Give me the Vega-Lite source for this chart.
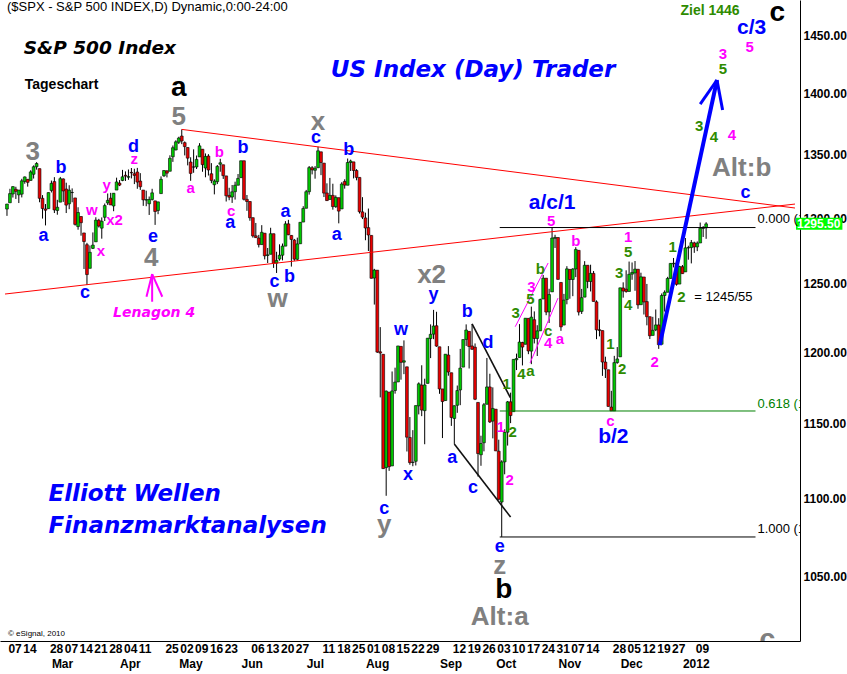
{
"$schema":"https://vega.github.io/schema/vega-lite/v6.json",
"width":800,"height":641,
"autosize":{"type":"none"},
"padding":{"left":0,"top":0,"right":47,"bottom":33},
"background":"white",
"config":{"view":{"stroke":null},
 "axis":{"labelFont":"Liberation Sans","labelFontWeight":"bold","labelFontSize":12,"labelColor":"#000000","domainColor":"#000000","domainWidth":1,"ticks":false,"tickSize":0,"grid":false,"labelOverlap":false,"labelFlush":false,"labelBound":false},
 "axisY":{"labelPadding":3}},
"datasets":{
"candles":[
{"d":3,"o":1307.0,"h":1311.0,"l":1301.7,"c":1310.9},
{"d":4,"o":1311.9,"h":1322.9,"l":1311.9,"c":1319.1},
{"d":5,"o":1318.8,"h":1324.9,"l":1316.0,"c":1324.6},
{"d":6,"o":1322.5,"h":1324.5,"l":1314.9,"c":1320.9},
{"d":7,"o":1318.1,"h":1322.0,"l":1311.7,"c":1321.9},
{"d":8,"o":1318.7,"h":1330.8,"l":1316.1,"c":1329.2},
{"d":9,"o":1328.7,"h":1332.6,"l":1326.9,"c":1332.3},
{"d":10,"o":1330.4,"h":1330.4,"l":1324.6,"c":1328.0},
{"d":11,"o":1329.5,"h":1337.6,"l":1329.5,"c":1336.3},
{"d":12,"o":1334.4,"h":1341.5,"l":1331.0,"c":1340.4},
{"d":13,"o":1340.4,"h":1344.1,"l":1338.1,"c":1343.0},
{"d":14,"o":1338.9,"h":1338.9,"l":1312.3,"c":1315.4},
{"d":15,"o":1315.4,"h":1317.9,"l":1299.6,"c":1307.4},
{"d":16,"o":1307.1,"h":1310.9,"l":1294.3,"c":1306.1},
{"d":17,"o":1307.3,"h":1320.0,"l":1307.3,"c":1319.9},
{"d":18,"o":1321.6,"h":1329.4,"l":1320.0,"c":1327.2},
{"d":19,"o":1328.6,"h":1332.1,"l":1303.9,"c":1306.3},
{"d":20,"o":1305.9,"h":1314.2,"l":1302.6,"c":1308.4},
{"d":21,"o":1312.4,"h":1332.3,"l":1312.4,"c":1330.9},
{"d":22,"o":1330.7,"h":1331.1,"l":1312.6,"c":1321.2},
{"d":23,"o":1322.7,"h":1327.7,"l":1303.9,"c":1310.1},
{"d":24,"o":1311.1,"h":1325.7,"l":1306.9,"c":1321.8},
{"d":25,"o":1319.9,"h":1323.2,"l":1312.3,"c":1320.0},
{"d":26,"o":1315.7,"h":1315.7,"l":1294.2,"c":1295.1},
{"d":27,"o":1293.4,"h":1308.4,"l":1291.0,"c":1304.3},
{"d":28,"o":1301.2,"h":1301.2,"l":1286.4,"c":1296.4},
{"d":29,"o":1288.5,"h":1288.5,"l":1261.1,"c":1281.9},
{"d":30,"o":1279.5,"h":1280.9,"l":1249.1,"c":1256.9},
{"d":31,"o":1261.6,"h":1278.9,"l":1261.6,"c":1273.7},
{"d":32,"o":1276.7,"h":1288.9,"l":1276.2,"c":1279.2},
{"d":33,"o":1281.7,"h":1300.6,"l":1281.7,"c":1298.4},
{"d":34,"o":1298.3,"h":1299.4,"l":1292.7,"c":1293.8},
{"d":35,"o":1292.2,"h":1300.5,"l":1284.1,"c":1297.5},
{"d":36,"o":1300.6,"h":1311.3,"l":1297.7,"c":1309.7},
{"d":37,"o":1311.8,"h":1319.2,"l":1310.2,"c":1313.8},
{"d":38,"o":1315.5,"h":1319.7,"l":1310.2,"c":1310.2},
{"d":39,"o":1309.4,"h":1319.5,"l":1305.3,"c":1319.4},
{"d":40,"o":1321.9,"h":1331.7,"l":1321.9,"c":1328.3},
{"d":41,"o":1327.4,"h":1329.8,"l":1325.0,"c":1325.8},
{"d":42,"o":1329.5,"h":1337.9,"l":1328.9,"c":1332.4},
{"d":43,"o":1333.6,"h":1336.7,"l":1329.1,"c":1332.9},
{"d":44,"o":1332.0,"h":1338.2,"l":1330.0,"c":1332.6},
{"d":45,"o":1335.9,"h":1339.4,"l":1331.1,"c":1335.5},
{"d":46,"o":1334.8,"h":1338.8,"l":1326.6,"c":1333.5},
{"d":47,"o":1336.2,"h":1339.5,"l":1322.9,"c":1328.2},
{"d":48,"o":1329.0,"h":1335.3,"l":1322.0,"c":1324.5},
{"d":49,"o":1321.9,"h":1321.9,"l":1309.5,"c":1314.2},
{"d":50,"o":1314.0,"h":1321.4,"l":1309.2,"c":1314.4},
{"d":51,"o":1311.1,"h":1316.8,"l":1302.4,"c":1314.5},
{"d":52,"o":1314.5,"h":1322.9,"l":1313.7,"c":1319.7},
{"d":53,"o":1313.4,"h":1313.4,"l":1294.7,"c":1305.1},
{"d":54,"o":1305.9,"h":1312.7,"l":1303.0,"c":1312.6},
{"d":55,"o":1319.1,"h":1332.7,"l":1319.1,"c":1330.4},
{"d":56,"o":1333.2,"h":1337.5,"l":1332.3,"c":1337.4},
{"d":57,"o":1337.1,"h":1337.6,"l":1331.9,"c":1335.3},
{"d":58,"o":1336.8,"h":1349.6,"l":1336.8,"c":1347.2},
{"d":59,"o":1348.4,"h":1357.5,"l":1344.3,"c":1355.7},
{"d":60,"o":1353.9,"h":1361.7,"l":1353.6,"c":1360.5},
{"d":61,"o":1360.1,"h":1364.6,"l":1358.7,"c":1363.6},
{"d":62,"o":1365.2,"h":1370.6,"l":1358.6,"c":1361.2},
{"d":63,"o":1359.8,"h":1360.8,"l":1349.5,"c":1356.6},
{"d":64,"o":1355.9,"h":1355.9,"l":1341.5,"c":1347.3},
{"d":65,"o":1344.2,"h":1348.0,"l":1329.2,"c":1335.1},
{"d":66,"o":1340.2,"h":1354.4,"l":1335.6,"c":1340.2},
{"d":67,"o":1340.2,"h":1349.4,"l":1338.6,"c":1346.3},
{"d":68,"o":1348.3,"h":1359.4,"l":1348.3,"c":1357.2},
{"d":69,"o":1354.5,"h":1354.5,"l":1336.4,"c":1342.1},
{"d":70,"o":1339.4,"h":1351.1,"l":1332.0,"c":1348.7},
{"d":71,"o":1349.0,"h":1350.5,"l":1333.4,"c":1337.8},
{"d":72,"o":1334.8,"h":1343.3,"l":1327.3,"c":1329.5},
{"d":73,"o":1326.1,"h":1330.4,"l":1318.5,"c":1329.0},
{"d":74,"o":1328.5,"h":1341.8,"l":1326.6,"c":1340.7},
{"d":75,"o":1342.4,"h":1346.8,"l":1336.4,"c":1343.6},
{"d":76,"o":1342.0,"h":1342.0,"l":1330.7,"c":1333.3},
{"d":77,"o":1333.1,"h":1333.1,"l":1312.9,"c":1317.4},
{"d":78,"o":1317.7,"h":1323.7,"l":1313.9,"c":1316.3},
{"d":79,"o":1316.4,"h":1325.9,"l":1311.8,"c":1320.5},
{"d":80,"o":1320.6,"h":1328.5,"l":1314.4,"c":1325.7},
{"d":81,"o":1325.7,"h":1334.6,"l":1325.7,"c":1331.1},
{"d":82,"o":1331.7,"h":1345.2,"l":1331.7,"c":1345.2},
{"d":83,"o":1345.2,"h":1345.2,"l":1313.7,"c":1314.6},
{"d":84,"o":1314.6,"h":1318.0,"l":1305.6,"c":1312.9},
{"d":85,"o":1312.9,"h":1312.9,"l":1297.9,"c":1300.2},
{"d":86,"o":1300.3,"h":1300.3,"l":1284.9,"c":1286.2},
{"d":87,"o":1286.3,"h":1296.2,"l":1284.7,"c":1284.9},
{"d":88,"o":1284.6,"h":1287.0,"l":1277.4,"c":1279.6},
{"d":89,"o":1279.6,"h":1294.5,"l":1279.6,"c":1289.0},
{"d":90,"o":1288.3,"h":1288.3,"l":1268.3,"c":1271.0},
{"d":91,"o":1271.3,"h":1277.0,"l":1265.6,"c":1271.8},
{"d":92,"o":1272.2,"h":1292.5,"l":1272.2,"c":1287.9},
{"d":93,"o":1287.9,"h":1287.9,"l":1261.9,"c":1265.4},
{"d":94,"o":1265.5,"h":1274.1,"l":1258.1,"c":1267.6},
{"d":95,"o":1268.6,"h":1279.8,"l":1267.4,"c":1271.5},
{"d":96,"o":1271.5,"h":1280.4,"l":1267.6,"c":1278.4},
{"d":97,"o":1278.4,"h":1297.6,"l":1278.4,"c":1295.5},
{"d":98,"o":1295.5,"h":1298.6,"l":1286.8,"c":1287.1},
{"d":99,"o":1286.6,"h":1286.8,"l":1262.9,"c":1283.5},
{"d":100,"o":1283.0,"h":1283.9,"l":1267.2,"c":1268.5},
{"d":101,"o":1268.4,"h":1284.9,"l":1267.5,"c":1280.1},
{"d":102,"o":1280.2,"h":1296.8,"l":1280.2,"c":1296.7},
{"d":103,"o":1296.9,"h":1309.2,"l":1296.9,"c":1307.4},
{"d":104,"o":1307.6,"h":1322.0,"l":1307.6,"c":1320.6},
{"d":105,"o":1320.6,"h":1341.0,"l":1318.3,"c":1339.7},
{"d":106,"o":1339.6,"h":1340.9,"l":1334.3,"c":1337.9},
{"d":107,"o":1337.6,"h":1340.9,"l":1330.9,"c":1339.2},
{"d":108,"o":1339.6,"h":1356.5,"l":1339.6,"c":1353.2},
{"d":109,"o":1352.4,"h":1352.4,"l":1333.7,"c":1343.8},
{"d":110,"o":1343.3,"h":1343.3,"l":1316.4,"c":1319.5},
{"d":111,"o":1319.6,"h":1327.2,"l":1313.3,"c":1313.6},
{"d":112,"o":1314.5,"h":1331.5,"l":1314.5,"c":1317.7},
{"d":113,"o":1317.7,"h":1326.9,"l":1306.5,"c":1308.9},
{"d":114,"o":1308.9,"h":1317.7,"l":1307.9,"c":1316.1},
{"d":115,"o":1315.9,"h":1315.9,"l":1295.9,"c":1305.4},
{"d":116,"o":1307.1,"h":1328.1,"l":1307.1,"c":1326.7},
{"d":117,"o":1328.7,"h":1330.4,"l":1323.0,"c":1325.8},
{"d":118,"o":1325.7,"h":1347.0,"l":1325.7,"c":1343.8},
{"d":119,"o":1343.8,"h":1346.1,"l":1337.0,"c":1345.0},
{"d":120,"o":1344.3,"h":1344.3,"l":1331.1,"c":1337.4},
{"d":121,"o":1337.4,"h":1338.5,"l":1329.6,"c":1331.9},
{"d":122,"o":1331.9,"h":1331.9,"l":1303.5,"c":1304.9},
{"d":123,"o":1304.8,"h":1316.3,"l":1299.2,"c":1300.7},
{"d":124,"o":1300.1,"h":1304.2,"l":1282.9,"c":1292.3},
{"d":125,"o":1292.6,"h":1307.4,"l":1274.7,"c":1286.9},
{"d":126,"o":1286.6,"h":1286.6,"l":1254.0,"c":1254.1},
{"d":127,"o":1254.3,"h":1261.2,"l":1234.6,"c":1260.3},
{"d":128,"o":1260.2,"h":1260.2,"l":1199.5,"c":1200.1},
{"d":129,"o":1200.3,"h":1218.1,"l":1168.1,"c":1199.4},
{"d":130,"o":1198.5,"h":1198.5,"l":1119.3,"c":1119.5},
{"d":131,"o":1120.2,"h":1172.9,"l":1101.5,"c":1172.5},
{"d":132,"o":1171.8,"h":1171.8,"l":1118.0,"c":1120.8},
{"d":133,"o":1121.3,"h":1186.3,"l":1121.3,"c":1172.6},
{"d":134,"o":1172.9,"h":1189.0,"l":1170.7,"c":1178.8},
{"d":135,"o":1178.9,"h":1204.5,"l":1178.9,"c":1204.5},
{"d":136,"o":1204.2,"h":1204.2,"l":1180.5,"c":1192.8},
{"d":137,"o":1192.9,"h":1208.5,"l":1184.4,"c":1193.9},
{"d":138,"o":1189.6,"h":1189.6,"l":1131.0,"c":1140.7},
{"d":139,"o":1140.5,"h":1154.5,"l":1122.1,"c":1123.5},
{"d":140,"o":1123.6,"h":1145.5,"l":1121.1,"c":1123.8},
{"d":141,"o":1124.4,"h":1162.4,"l":1121.6,"c":1162.4},
{"d":142,"o":1162.2,"h":1178.6,"l":1156.3,"c":1177.6},
{"d":143,"o":1176.7,"h":1190.7,"l":1155.1,"c":1159.3},
{"d":144,"o":1158.9,"h":1181.2,"l":1135.9,"c":1176.8},
{"d":145,"o":1177.9,"h":1210.1,"l":1177.9,"c":1210.1},
{"d":146,"o":1209.8,"h":1220.1,"l":1195.8,"c":1212.9},
{"d":147,"o":1213.0,"h":1230.7,"l":1209.4,"c":1218.9},
{"d":148,"o":1219.1,"h":1229.3,"l":1203.9,"c":1204.4},
{"d":149,"o":1203.9,"h":1203.9,"l":1170.6,"c":1174.0},
{"d":150,"o":1174.0,"h":1174.0,"l":1140.1,"c":1165.2},
{"d":151,"o":1165.9,"h":1198.6,"l":1165.9,"c":1198.6},
{"d":152,"o":1198.0,"h":1204.4,"l":1183.3,"c":1185.9},
{"d":153,"o":1185.4,"h":1185.4,"l":1148.4,"c":1154.2},
{"d":154,"o":1153.5,"h":1162.5,"l":1136.1,"c":1162.3},
{"d":155,"o":1162.6,"h":1176.4,"l":1157.4,"c":1172.9},
{"d":156,"o":1173.3,"h":1202.4,"l":1162.7,"c":1188.7},
{"d":157,"o":1189.4,"h":1209.1,"l":1189.4,"c":1209.1},
{"d":158,"o":1209.2,"h":1220.1,"l":1204.5,"c":1216.0},
{"d":159,"o":1215.0,"h":1215.0,"l":1188.4,"c":1204.1},
{"d":160,"o":1204.5,"h":1220.4,"l":1201.8,"c":1202.1},
{"d":161,"o":1203.6,"h":1206.3,"l":1166.2,"c":1166.8},
{"d":162,"o":1164.6,"h":1164.6,"l":1114.2,"c":1129.6},
{"d":163,"o":1128.8,"h":1141.7,"l":1121.4,"c":1136.4},
{"d":164,"o":1136.9,"h":1164.2,"l":1131.1,"c":1163.0},
{"d":165,"o":1163.3,"h":1195.9,"l":1163.3,"c":1175.4},
{"d":166,"o":1175.4,"h":1184.7,"l":1150.4,"c":1151.1},
{"d":167,"o":1151.7,"h":1175.1,"l":1139.9,"c":1160.4},
{"d":168,"o":1159.9,"h":1159.9,"l":1131.3,"c":1131.4},
{"d":169,"o":1131.2,"h":1139.0,"l":1098.9,"c":1099.2},
{"d":170,"o":1097.4,"h":1125.1,"l":1074.8,"c":1124.0},
{"d":171,"o":1124.0,"h":1146.1,"l":1115.7,"c":1144.0},
{"d":172,"o":1144.1,"h":1165.6,"l":1135.0,"c":1165.0},
{"d":173,"o":1165.0,"h":1171.4,"l":1150.3,"c":1155.5},
{"d":174,"o":1158.2,"h":1194.9,"l":1158.2,"c":1194.9},
{"d":175,"o":1194.6,"h":1199.0,"l":1187.3,"c":1195.5},
{"d":176,"o":1196.2,"h":1220.3,"l":1196.2,"c":1207.3},
{"d":177,"o":1207.0,"h":1207.5,"l":1190.6,"c":1203.7},
{"d":178,"o":1205.7,"h":1224.6,"l":1205.7,"c":1224.6},
{"d":179,"o":1224.5,"h":1224.5,"l":1198.6,"c":1200.9},
{"d":180,"o":1200.8,"h":1233.1,"l":1191.5,"c":1225.4},
{"d":181,"o":1223.5,"h":1229.6,"l":1206.3,"c":1209.9},
{"d":182,"o":1209.9,"h":1219.5,"l":1197.3,"c":1215.4},
{"d":183,"o":1215.4,"h":1239.0,"l":1215.4,"c":1238.3},
{"d":184,"o":1238.7,"h":1256.6,"l":1238.7,"c":1254.2},
{"d":185,"o":1254.2,"h":1254.2,"l":1226.8,"c":1229.1},
{"d":186,"o":1229.2,"h":1246.3,"l":1221.1,"c":1242.0},
{"d":187,"o":1244.0,"h":1292.7,"l":1244.0,"c":1284.6},
{"d":188,"o":1284.4,"h":1287.1,"l":1277.0,"c":1285.1},
{"d":189,"o":1285.0,"h":1285.0,"l":1253.2,"c":1253.3},
{"d":190,"o":1251.0,"h":1251.0,"l":1215.4,"c":1218.3},
{"d":191,"o":1219.6,"h":1242.5,"l":1219.6,"c":1237.9},
{"d":192,"o":1238.3,"h":1263.2,"l":1234.8,"c":1261.2},
{"d":193,"o":1260.8,"h":1260.8,"l":1238.9,"c":1253.2},
{"d":194,"o":1253.2,"h":1261.7,"l":1240.8,"c":1261.1},
{"d":195,"o":1261.1,"h":1277.6,"l":1255.0,"c":1275.9},
{"d":196,"o":1275.2,"h":1275.2,"l":1226.6,"c":1229.1},
{"d":197,"o":1229.6,"h":1246.2,"l":1227.7,"c":1239.7},
{"d":198,"o":1240.1,"h":1267.0,"l":1240.1,"c":1263.9},
{"d":199,"o":1263.9,"h":1263.9,"l":1246.7,"c":1251.8},
{"d":200,"o":1251.7,"h":1264.3,"l":1244.3,"c":1257.8},
{"d":201,"o":1257.8,"h":1259.6,"l":1236.9,"c":1236.9},
{"d":202,"o":1236.6,"h":1237.7,"l":1209.4,"c":1216.1},
{"d":203,"o":1216.2,"h":1223.5,"l":1211.4,"c":1215.7},
{"d":204,"o":1215.6,"h":1215.6,"l":1183.2,"c":1193.0},
{"d":205,"o":1193.0,"h":1196.8,"l":1181.7,"c":1188.0},
{"d":206,"o":1187.5,"h":1187.5,"l":1161.8,"c":1161.8},
{"d":207,"o":1161.4,"h":1172.7,"l":1158.7,"c":1158.7},
{"d":208,"o":1158.7,"h":1197.4,"l":1158.7,"c":1192.6},
{"d":209,"o":1192.6,"h":1203.7,"l":1191.8,"c":1195.2},
{"d":210,"o":1196.7,"h":1247.1,"l":1196.7,"c":1247.0},
{"d":211,"o":1246.9,"h":1251.1,"l":1239.7,"c":1244.6},
{"d":212,"o":1246.0,"h":1260.1,"l":1243.4,"c":1244.3},
{"d":213,"o":1244.3,"h":1266.7,"l":1244.3,"c":1257.1},
{"d":214,"o":1257.2,"h":1266.0,"l":1253.0,"c":1258.5},
{"d":215,"o":1258.1,"h":1267.1,"l":1244.8,"c":1261.0},
{"d":216,"o":1260.9,"h":1260.9,"l":1231.5,"c":1234.4},
{"d":217,"o":1234.5,"h":1258.3,"l":1234.5,"c":1255.2},
{"d":218,"o":1255.1,"h":1255.1,"l":1227.3,"c":1236.5},
{"d":219,"o":1236.8,"h":1249.9,"l":1219.4,"c":1225.7},
{"d":220,"o":1225.7,"h":1225.7,"l":1209.5,"c":1211.8},
{"d":221,"o":1212.1,"h":1225.6,"l":1212.1,"c":1215.8},
{"d":222,"o":1216.1,"h":1231.0,"l":1215.2,"c":1219.7},
{"d":223,"o":1219.7,"h":1224.6,"l":1202.4,"c":1205.4},
{"d":224,"o":1205.7,"h":1242.8,"l":1205.7,"c":1241.3},
{"d":225,"o":1241.3,"h":1245.1,"l":1229.5,"c":1243.7},
{"d":226,"o":1243.7,"h":1255.2,"l":1243.7,"c":1254.0},
{"d":227,"o":1254.0,"h":1265.4,"l":1254.0,"c":1265.3},
{"d":228,"o":1265.0,"h":1269.4,"l":1262.3,"c":1265.4},
{"d":229,"o":1265.4,"h":1265.9,"l":1248.6,"c":1249.6},
{"d":230,"o":1249.8,"h":1263.5,"l":1249.8,"c":1263.0},
{"d":231,"o":1262.8,"h":1264.1,"l":1257.5,"c":1257.6},
{"d":232,"o":1258.9,"h":1284.6,"l":1258.9,"c":1277.1},
{"d":233,"o":1277.0,"h":1278.7,"l":1268.1,"c":1277.3},
{"d":234,"o":1277.3,"h":1283.1,"l":1265.3,"c":1281.1},
{"d":235,"o":1280.9,"h":1281.8,"l":1273.3,"c":1277.8},
{"d":236,"o":1277.8,"h":1282.0,"l":1274.6,"c":1280.7},
{"d":237,"o":1280.8,"h":1296.5,"l":1280.8,"c":1292.1},
{"d":238,"o":1292.0,"h":1293.8,"l":1285.4,"c":1292.5},
{"d":239,"o":1292.5,"h":1296.8,"l":1284.0,"c":1295.5}
],
"segs":[
{"k":"red","d":2.333,"p":1242.4,"d2":269,"p2":1310.9},
{"k":"red","d":62,"p":1370.6,"d2":269,"p2":1307.8},
{"k":"blk","d":169.33,"p":1292.66,"d2":255.67,"p2":1292.66},
{"k":"blk","d":169.33,"p":1074.77,"d2":255.67,"p2":1074.77},
{"k":"grn","d":169.33,"p":1158.66,"d2":255.67,"p2":1158.66},
{"k":"mthin","d":174.56,"p":1218.4,"d2":185.67,"p2":1265.6},
{"k":"mthin","d":179.56,"p":1192.3,"d2":189,"p2":1239.4},
{"k":"tri","d":160,"p":1220.4,"d2":172.9,"p2":1168.0},
{"k":"tri","d":154,"p":1136.1,"d2":173,"p2":1087.6},
{"k":"shaft","d":223.33,"p":1205.1,"d2":242.67,"p2":1411.6},
{"k":"head","d":242.67,"p":1411.6,"d2":237,"p2":1391.5},
{"k":"head","d":242.67,"p":1411.6,"d2":244.56,"p2":1386.5},
{"k":"marrow","d":52,"p":1236.7,"d2":52,"p2":1257.3},
{"k":"marrow","d":52,"p":1257.3,"d2":50.1,"p2":1240.4},
{"k":"marrow","d":52,"p":1257.3,"d2":55.43,"p2":1240.4},
{"k":"box","d":269.33,"p":1300.2,"d2":285,"p2":1290.9}
],
"waves":[
{"k":"b","t":"b","d":21.23,"p":1339.1},{"k":"b","t":"a","d":15.33,"p":1286.1},{"k":"b","t":"c","d":29.33,"p":1243.1},
{"k":"b","t":"d","d":45.67,"p":1356.3},{"k":"b","t":"e","d":52.33,"p":1285.4},{"k":"b","t":"b","d":82.67,"p":1355.5},
{"k":"b","t":"a","d":78.33,"p":1296.1},{"k":"b","t":"c","d":107.33,"p":1363.6},{"k":"b","t":"b","d":118.33,"p":1353.8},
{"k":"b","t":"a","d":114.33,"p":1286.9},{"k":"b","t":"a","d":97,"p":1304.7},{"k":"b","t":"c","d":93.33,"p":1251.3},
{"k":"b","t":"b","d":98.33,"p":1255.0},{"k":"b","t":"y","d":147,"p":1241.6},{"k":"b","t":"w","d":136,"p":1216.0},
{"k":"b","t":"x","d":138.33,"p":1115.2},{"k":"b","t":"c","d":130.33,"p":1092.8},{"k":"b","t":"b","d":158.33,"p":1229.1},
{"k":"b","t":"d","d":165.33,"p":1206.6},{"k":"b","t":"a","d":153.33,"p":1126.6},{"k":"b","t":"c","d":160.33,"p":1106.5},
{"k":"b","t":"c","d":252.33,"p":1319.6},{"k":"b","t":"e","d":169.33,"p":1068.3},
{"k":"b2","t":"a/c/1","d":187,"p":1311.7},{"k":"b2","t":"b/2","d":207.67,"p":1140.8},{"k":"b2","t":"c/3","d":254.33,"p":1456.1},
{"k":"m","t":"z","d":46,"p":1346.6},{"k":"m","t":"y","d":36.67,"p":1325.9},{"k":"m","t":"w","d":31.67,"p":1306.2},
{"k":"m","t":"x2","d":39.33,"p":1298.5},{"k":"m","t":"x","d":34.67,"p":1274.7},{"k":"m","t":"a","d":65,"p":1323.5},
{"k":"m","t":"b","d":74.67,"p":1352.2},{"k":"m","t":"c","d":78.67,"p":1305.5},{"k":"m","t":"5","d":186.67,"p":1297.7},
{"k":"m","t":"b","d":195,"p":1282.3},{"k":"m","t":"1","d":212.67,"p":1285.4},{"k":"m","t":"3","d":180,"p":1247.6},
{"k":"m","t":"4","d":185.67,"p":1206.6},{"k":"m","t":"a","d":189.67,"p":1209.5},{"k":"m","t":"c","d":206.67,"p":1151.7},
{"k":"m","t":"2","d":221.67,"p":1193.0},{"k":"m","t":"1","d":169.67,"p":1147.6},{"k":"m","t":"2","d":172.67,"p":1111.9},
{"k":"m","t":"3","d":244.67,"p":1433.7},{"k":"m","t":"5","d":253.67,"p":1439.7},{"k":"m","t":"4","d":247.67,"p":1366.0},
{"k":"g","t":"5","d":212.67,"p":1273.9},{"k":"g","t":"3","d":209.67,"p":1258.0},{"k":"g","t":"4","d":212.67,"p":1234.3},
{"k":"g","t":"1","d":227.67,"p":1277.7},{"k":"g","t":"2","d":230.67,"p":1240.2},{"k":"g","t":"1","d":206.67,"p":1205.9},
{"k":"g","t":"2","d":210.67,"p":1188.0},{"k":"g","t":"b","d":183,"p":1261.0},{"k":"g","t":"5","d":179.67,"p":1238.7},
{"k":"g","t":"3","d":174.67,"p":1228.4},{"k":"g","t":"c","d":185.67,"p":1215.3},{"k":"g","t":"4","d":176.67,"p":1184.5},
{"k":"g","t":"a","d":179.67,"p":1186.6},{"k":"g","t":"1","d":171.67,"p":1177.4},{"k":"g","t":"2","d":173.67,"p":1144.2},
{"k":"g","t":"5","d":244.67,"p":1420.9},{"k":"g","t":"3","d":236.67,"p":1373.4},{"k":"g","t":"4","d":241.67,"p":1364.4},
{"k":"gr","t":"3","d":11.67,"p":1352.2},{"k":"gr","t":"5","d":61,"p":1380.8},{"k":"gr","t":"4","d":51.67,"p":1269.4},
{"k":"gr","t":"x","d":108,"p":1376.7},{"k":"gr","t":"w","d":94.33,"p":1238.7},{"k":"gr","t":"x2","d":146.33,"p":1256.5},
{"k":"gr","t":"y","d":130.33,"p":1082.4},{"k":"gr","t":"z","d":169.33,"p":1056.3},{"k":"gr","t":"Alt:a","d":169.33,"p":1024.6},
{"k":"gr","t":"Alt:b","d":251,"p":1339.4},
{"k":"k","t":"a","d":61,"p":1404.9},{"k":"k","t":"b","d":170.67,"p":1041.3},{"k":"k","t":"c","d":263,"p":1469.2},
{"k":"grc","t":"c","d":259.67,"p":1010.7}
],
"notes":[
{"k":"title","d":3.0,"p":1474.4,"t":"($SPX - S&P 500 INDEX,D) Dynamic,0:00-24:00"},
{"k":"hdr","d":8.667,"p":1438.8,"t":"S&P 500 Index"},
{"k":"tage","d":9.0,"p":1407.4,"t":"Tageschart"},
{"k":"brand","d":112.33,"p":1420.0,"t":"US Index (Day) Trader"},
{"k":"brand","d":17.0,"p":1102.6,"t":"Elliott Wellen"},
{"k":"brand","d":17.0,"p":1081.8,"t":"Finanzmarktanalysen"},
{"k":"copy","d":3.333,"p":1014.3,"t":"© eSignal, 2010"},
{"k":"lena","d":52.67,"p":1228.4,"t":"Lenagon 4"},
{"k":"ziel","d":240.33,"p":1470.9,"t":"Ziel 1446"},
{"k":"note","d":235,"p":1240.2,"t":"= 1245/55"},
{"k":"fibk","d":256.33,"p":1299.2,"t":"0.000 (1292.66)"},
{"k":"fibg","d":256.33,"p":1163.5,"t":"0.618 (1158.66)"},
{"k":"fibk","d":256.33,"p":1079.8,"t":"1.000 (1074.77)"},
{"k":"last","d":269.67,"p":1295.5,"t":"1295.50"}
],
"months":[
{"d":19,"m":"Mar"},{"d":42,"m":"Apr"},{"d":62,"m":"May"},{"d":83,"m":"Jun"},{"d":105,"m":"Jul"},{"d":125,"m":"Aug"},
{"d":150,"m":"Sep"},{"d":169,"m":"Oct"},{"d":190,"m":"Nov"},{"d":211,"m":"Dec"},{"d":232,"m":"2012"}
]
},
"resolve":{"axis":{"x":"independent"}},
"layer":[
{"data":{"name":"candles"},
 "mark":{"type":"rule","color":"black","strokeWidth":1,"clip":true},
 "encoding":{
  "x":{"field":"d","type":"quantitative","scale":{"domain":[2.333,269],"nice":false,"zero":false},
   "axis":{"orient":"bottom","title":null,
    "values":[4,9,18,23,28,33,38,43,48,57,62,67,72,77,86,91,96,101,110,115,120,125,130,135,140,145,154,159,164,169,174,179,184,189,194,199,208,213,218,223,228,236],
    "labelExpr":"['07','14','28','07','14','21','28','04','11','25','02','09','16','23','06','13','20','27','11','18','25','01','08','15','22','29','12','19','26','03','10','17','24','31','07','14','28','05','12','19','27','09'][indexof([4,9,18,23,28,33,38,43,48,57,62,67,72,77,86,91,96,101,110,115,120,125,130,135,140,145,154,159,164,169,174,179,184,189,194,199,208,213,218,223,228,236], datum.value)]",
    "ticks":false,"tickSize":0,"labelAlign":"left","labelOffset":-2,"labelPadding":2,
    "labelFont":"Liberation Sans","labelFontWeight":"bold","labelFontSize":12,"labelColor":"black",
    "labelOverlap":false,"labelFlush":false,"labelBound":false,"domainColor":"black","domainWidth":1,"grid":false}},
  "y":{"field":"l","type":"quantitative","scale":{"type":"log","domain":[1010.1,1480.6],"nice":false},
   "axis":{"orient":"right","title":null,"values":[1050,1100,1150,1200,1250,1300,1350,1400,1450],"format":".2f",
    "ticks":false,"tickSize":0,"labelPadding":3,"labelFont":"Liberation Sans","labelFontWeight":"bold","labelFontSize":12,
    "labelColor":"black","labelOverlap":false,"labelBound":false,"labelFlush":false,"domain":true,"domainColor":"black","domainWidth":1,"grid":false}},
  "y2":{"field":"h"}}},
{"data":{"name":"months"},
 "mark":{"type":"point","opacity":0},
 "encoding":{
  "x":{"field":"d","type":"quantitative","scale":{"domain":[2.333,269],"nice":false,"zero":false},
   "axis":{"orient":"bottom","title":null,"values":[19,42,62,83,105,125,150,169,190,211,232],
    "labelExpr":"['Mar','Apr','May','Jun','Jul','Aug','Sep','Oct','Nov','Dec','2012'][indexof([19,42,62,83,105,125,150,169,190,211,232], datum.value)]",
    "ticks":false,"tickSize":0,"domain":false,"grid":false,"labelAlign":"left","labelOffset":-3,"labelPadding":17,
    "labelFont":"Liberation Sans","labelFontWeight":"bold","labelFontSize":12,"labelColor":"black",
    "labelOverlap":false,"labelFlush":false,"labelBound":false}}}},
{"data":{"name":"candles"},
 "mark":{"type":"bar","size":2.8,"stroke":"black","strokeWidth":0.6,"clip":true},
 "encoding":{
  "x":{"field":"d","type":"quantitative","scale":{"domain":[2.333,269],"nice":false,"zero":false},"axis":null},
  "y":{"field":"o","type":"quantitative","scale":{"type":"log","domain":[1010.1,1480.6],"nice":false}},
  "y2":{"field":"c"},
  "fill":{"condition":{"test":"datum.c >= datum.o","value":"#00c800"},"value":"#e80000"}}},
{"data":{"name":"segs"},
 "transform":[{"filter":"indexof(['red','blk','grn','mthin'], datum.k) >= 0"}],
 "mark":{"type":"rule","strokeWidth":1,"clip":true},
 "encoding":{
  "x":{"field":"d","type":"quantitative","scale":{"domain":[2.333,269],"nice":false,"zero":false},"axis":null},
  "x2":{"field":"d2"},
  "y":{"field":"p","type":"quantitative","scale":{"type":"log","domain":[1010.1,1480.6],"nice":false}},
  "y2":{"field":"p2"},
  "color":{"field":"k","type":"nominal","scale":{"domain":["red","blk","grn","mthin"],"range":["#ff0000","#000000","#008000","#ff00ff"]},"legend":null}}},
{"data":{"name":"segs"},
 "transform":[{"filter":"datum.k == 'tri'"}],
 "mark":{"type":"rule","strokeWidth":1.6,"color":"#111111"},
 "encoding":{
  "x":{"field":"d","type":"quantitative","scale":{"domain":[2.333,269],"nice":false,"zero":false},"axis":null},
  "x2":{"field":"d2"},
  "y":{"field":"p","type":"quantitative","scale":{"type":"log","domain":[1010.1,1480.6],"nice":false}},
  "y2":{"field":"p2"}}},
{"data":{"name":"segs"},
 "transform":[{"filter":"datum.k == 'marrow'"}],
 "mark":{"type":"rule","strokeWidth":2,"color":"#ff00ff"},
 "encoding":{
  "x":{"field":"d","type":"quantitative","scale":{"domain":[2.333,269],"nice":false,"zero":false},"axis":null},
  "x2":{"field":"d2"},
  "y":{"field":"p","type":"quantitative","scale":{"type":"log","domain":[1010.1,1480.6],"nice":false}},
  "y2":{"field":"p2"}}},
{"data":{"name":"segs"},
 "transform":[{"filter":"datum.k == 'shaft'"}],
 "mark":{"type":"rule","strokeWidth":4,"color":"#0000ff"},
 "encoding":{
  "x":{"field":"d","type":"quantitative","scale":{"domain":[2.333,269],"nice":false,"zero":false},"axis":null},
  "x2":{"field":"d2"},
  "y":{"field":"p","type":"quantitative","scale":{"type":"log","domain":[1010.1,1480.6],"nice":false}},
  "y2":{"field":"p2"}}},
{"data":{"name":"segs"},
 "transform":[{"filter":"datum.k == 'head'"}],
 "mark":{"type":"rule","strokeWidth":3,"color":"#0000ff"},
 "encoding":{
  "x":{"field":"d","type":"quantitative","scale":{"domain":[2.333,269],"nice":false,"zero":false},"axis":null},
  "x2":{"field":"d2"},
  "y":{"field":"p","type":"quantitative","scale":{"type":"log","domain":[1010.1,1480.6],"nice":false}},
  "y2":{"field":"p2"}}},
{"data":{"name":"segs"},
 "transform":[{"filter":"datum.k == 'box'"}],
 "mark":{"type":"rect","color":"#00ff00"},
 "encoding":{
  "x":{"field":"d","type":"quantitative","scale":{"domain":[2.333,269],"nice":false,"zero":false},"axis":null},
  "x2":{"field":"d2"},
  "y":{"field":"p","type":"quantitative","scale":{"type":"log","domain":[1010.1,1480.6],"nice":false}},
  "y2":{"field":"p2"}}},
{"data":{"name":"waves"},
 "transform":[{"filter":"datum.k == 'b'"}],
 "mark":{"type":"text","font":"Liberation Sans","fontWeight":"bold","fontSize":18,"color":"#0000ff","align":"center","baseline":"middle"},
 "encoding":{
  "x":{"field":"d","type":"quantitative","scale":{"domain":[2.333,269],"nice":false,"zero":false},"axis":null},
  "y":{"field":"p","type":"quantitative","scale":{"type":"log","domain":[1010.1,1480.6],"nice":false}},
  "text":{"field":"t"}}},
{"data":{"name":"waves"},
 "transform":[{"filter":"datum.k == 'b2'"}],
 "mark":{"type":"text","font":"Liberation Sans","fontWeight":"bold","fontSize":21,"color":"#0000ff","align":"center","baseline":"middle"},
 "encoding":{
  "x":{"field":"d","type":"quantitative","scale":{"domain":[2.333,269],"nice":false,"zero":false},"axis":null},
  "y":{"field":"p","type":"quantitative","scale":{"type":"log","domain":[1010.1,1480.6],"nice":false}},
  "text":{"field":"t"}}},
{"data":{"name":"waves"},
 "transform":[{"filter":"datum.k == 'm'"}],
 "mark":{"type":"text","font":"Liberation Sans","fontWeight":"bold","fontSize":15,"color":"#ff00ff","align":"center","baseline":"middle"},
 "encoding":{
  "x":{"field":"d","type":"quantitative","scale":{"domain":[2.333,269],"nice":false,"zero":false},"axis":null},
  "y":{"field":"p","type":"quantitative","scale":{"type":"log","domain":[1010.1,1480.6],"nice":false}},
  "text":{"field":"t"}}},
{"data":{"name":"waves"},
 "transform":[{"filter":"datum.k == 'g'"}],
 "mark":{"type":"text","font":"Liberation Sans","fontWeight":"bold","fontSize":15,"color":"#2e8b00","align":"center","baseline":"middle"},
 "encoding":{
  "x":{"field":"d","type":"quantitative","scale":{"domain":[2.333,269],"nice":false,"zero":false},"axis":null},
  "y":{"field":"p","type":"quantitative","scale":{"type":"log","domain":[1010.1,1480.6],"nice":false}},
  "text":{"field":"t"}}},
{"data":{"name":"waves"},
 "transform":[{"filter":"datum.k == 'gr'"}],
 "mark":{"type":"text","font":"Liberation Sans","fontWeight":"bold","fontSize":26,"color":"#808080","align":"center","baseline":"middle"},
 "encoding":{
  "x":{"field":"d","type":"quantitative","scale":{"domain":[2.333,269],"nice":false,"zero":false},"axis":null},
  "y":{"field":"p","type":"quantitative","scale":{"type":"log","domain":[1010.1,1480.6],"nice":false}},
  "text":{"field":"t"}}},
{"data":{"name":"waves"},
 "transform":[{"filter":"datum.k == 'grc'"}],
 "mark":{"type":"text","font":"Liberation Sans","fontWeight":"bold","fontSize":29,"color":"#808080","align":"center","baseline":"middle","clip":true},
 "encoding":{
  "x":{"field":"d","type":"quantitative","scale":{"domain":[2.333,269],"nice":false,"zero":false},"axis":null},
  "y":{"field":"p","type":"quantitative","scale":{"type":"log","domain":[1010.1,1480.6],"nice":false}},
  "text":{"field":"t"}}},
{"data":{"name":"waves"},
 "transform":[{"filter":"datum.k == 'k'"}],
 "mark":{"type":"text","font":"Liberation Sans","fontWeight":"bold","fontSize":28,"color":"#000000","align":"center","baseline":"middle"},
 "encoding":{
  "x":{"field":"d","type":"quantitative","scale":{"domain":[2.333,269],"nice":false,"zero":false},"axis":null},
  "y":{"field":"p","type":"quantitative","scale":{"type":"log","domain":[1010.1,1480.6],"nice":false}},
  "text":{"field":"t"}}},
{"data":{"name":"notes"},
 "transform":[{"filter":"datum.k == 'title'"}],
 "mark":{"type":"text","font":"Liberation Sans","fontSize":13,"color":"#000000","align":"left","baseline":"middle"},
 "encoding":{
  "x":{"field":"d","type":"quantitative","scale":{"domain":[2.333,269],"nice":false,"zero":false},"axis":null},
  "y":{"field":"p","type":"quantitative","scale":{"type":"log","domain":[1010.1,1480.6],"nice":false}},
  "text":{"field":"t"}}},
{"data":{"name":"notes"},
 "transform":[{"filter":"datum.k == 'hdr'"}],
 "mark":{"type":"text","font":"DejaVu Sans","fontWeight":"bold","fontStyle":"italic","fontSize":18.5,"color":"#000000","align":"left","baseline":"middle"},
 "encoding":{
  "x":{"field":"d","type":"quantitative","scale":{"domain":[2.333,269],"nice":false,"zero":false},"axis":null},
  "y":{"field":"p","type":"quantitative","scale":{"type":"log","domain":[1010.1,1480.6],"nice":false}},
  "text":{"field":"t"}}},
{"data":{"name":"notes"},
 "transform":[{"filter":"datum.k == 'tage'"}],
 "mark":{"type":"text","font":"Liberation Sans","fontWeight":"bold","fontSize":14,"color":"#000000","align":"left","baseline":"middle"},
 "encoding":{
  "x":{"field":"d","type":"quantitative","scale":{"domain":[2.333,269],"nice":false,"zero":false},"axis":null},
  "y":{"field":"p","type":"quantitative","scale":{"type":"log","domain":[1010.1,1480.6],"nice":false}},
  "text":{"field":"t"}}},
{"data":{"name":"notes"},
 "transform":[{"filter":"datum.k == 'brand'"}],
 "mark":{"type":"text","font":"DejaVu Sans","fontWeight":"bold","fontStyle":"italic","fontSize":23,"color":"#0000ff","align":"left","baseline":"middle"},
 "encoding":{
  "x":{"field":"d","type":"quantitative","scale":{"domain":[2.333,269],"nice":false,"zero":false},"axis":null},
  "y":{"field":"p","type":"quantitative","scale":{"type":"log","domain":[1010.1,1480.6],"nice":false}},
  "text":{"field":"t"}}},
{"data":{"name":"notes"},
 "transform":[{"filter":"datum.k == 'lena'"}],
 "mark":{"type":"text","font":"DejaVu Sans","fontWeight":"bold","fontStyle":"italic","fontSize":14,"color":"#ff00ff","align":"center","baseline":"middle"},
 "encoding":{
  "x":{"field":"d","type":"quantitative","scale":{"domain":[2.333,269],"nice":false,"zero":false},"axis":null},
  "y":{"field":"p","type":"quantitative","scale":{"type":"log","domain":[1010.1,1480.6],"nice":false}},
  "text":{"field":"t"}}},
{"data":{"name":"notes"},
 "transform":[{"filter":"datum.k == 'ziel'"}],
 "mark":{"type":"text","font":"Liberation Sans","fontWeight":"bold","fontSize":14,"color":"#2e8b00","align":"center","baseline":"middle"},
 "encoding":{
  "x":{"field":"d","type":"quantitative","scale":{"domain":[2.333,269],"nice":false,"zero":false},"axis":null},
  "y":{"field":"p","type":"quantitative","scale":{"type":"log","domain":[1010.1,1480.6],"nice":false}},
  "text":{"field":"t"}}},
{"data":{"name":"notes"},
 "transform":[{"filter":"datum.k == 'note' || datum.k == 'fibk'"}],
 "mark":{"type":"text","font":"Liberation Sans","fontSize":13,"color":"#000000","align":"left","baseline":"middle","clip":true},
 "encoding":{
  "x":{"field":"d","type":"quantitative","scale":{"domain":[2.333,269],"nice":false,"zero":false},"axis":null},
  "y":{"field":"p","type":"quantitative","scale":{"type":"log","domain":[1010.1,1480.6],"nice":false}},
  "text":{"field":"t"}}},
{"data":{"name":"notes"},
 "transform":[{"filter":"datum.k == 'fibg'"}],
 "mark":{"type":"text","font":"Liberation Sans","fontSize":13,"color":"#008000","align":"left","baseline":"middle","clip":true},
 "encoding":{
  "x":{"field":"d","type":"quantitative","scale":{"domain":[2.333,269],"nice":false,"zero":false},"axis":null},
  "y":{"field":"p","type":"quantitative","scale":{"type":"log","domain":[1010.1,1480.6],"nice":false}},
  "text":{"field":"t"}}},
{"data":{"name":"notes"},
 "transform":[{"filter":"datum.k == 'copy'"}],
 "mark":{"type":"text","font":"Liberation Sans","fontSize":8,"color":"#000000","align":"left","baseline":"middle"},
 "encoding":{
  "x":{"field":"d","type":"quantitative","scale":{"domain":[2.333,269],"nice":false,"zero":false},"axis":null},
  "y":{"field":"p","type":"quantitative","scale":{"type":"log","domain":[1010.1,1480.6],"nice":false}},
  "text":{"field":"t"}}},
{"data":{"name":"notes"},
 "transform":[{"filter":"datum.k == 'last'"}],
 "mark":{"type":"text","font":"Liberation Sans","fontWeight":"bold","fontSize":12,"color":"#ffffff","align":"left","baseline":"middle"},
 "encoding":{
  "x":{"field":"d","type":"quantitative","scale":{"domain":[2.333,269],"nice":false,"zero":false},"axis":null},
  "y":{"field":"p","type":"quantitative","scale":{"type":"log","domain":[1010.1,1480.6],"nice":false}},
  "text":{"field":"t"}}}
]
}
